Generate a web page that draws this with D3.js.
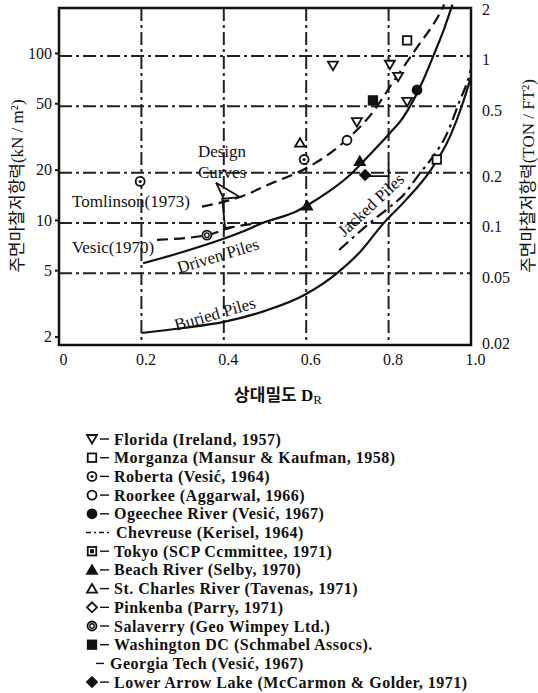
<!DOCTYPE html>
<meta charset="utf-8">
<script src="https://d3js.org/d3.v7.min.js"></script>
<style>
  body { margin: 0; background: #fff; }
  svg text { font-family: "Liberation Serif", "Noto Sans CJK KR", serif; fill: #111; }
</style>
<div id="chart"></div>
<script>
// axis ticks
var xTicks = [0, 0.2, 0.4, 0.6, 0.8, 1.0];
var kNTicks = [2, 5, 10, 20, 50, 100];
var tonTicks = [0.02, 0.05, 0.1, 0.2, 0.5, 1, 2];
var tonGrid = [1, 0.5, 0.2, 0.1, 0.05];
var dGrid = [0.2, 0.4, 0.6, 0.8];
var tonToKN = 95.76;

// design curves, [D_R, kN/m2]
var tomlinson = [[0.347, 12.0], [0.439, 13.7], [0.519, 16.7], [0.592, 19.9], [0.689, 28.9], [0.762, 44.3], [0.811, 67], [0.869, 108], [0.925, 174], [0.935, 195]];
var vesicLead = [[0.238, 7.6], [0.359, 8.1], [0.415, 8.96], [0.493, 9.6]];
var driven = [[0.204, 5.5], [0.294, 6.35], [0.44, 8.4], [0.495, 9.6], [0.578, 11.3], [0.602, 12.2], [0.65, 14.5], [0.7, 18], [0.75, 24], [0.8, 32.5], [0.835, 41], [0.86, 52], [0.883, 68], [0.91, 98], [0.935, 140], [0.955, 195]];
var jacked = [[0.68, 6.6], [0.755, 9.6], [0.8, 11.8], [0.835, 14], [0.876, 19], [0.908, 24], [0.942, 33], [0.973, 52], [0.99, 66], [1.0, 80]];
var buried = [[0.2, 2.1], [0.3, 2.25], [0.4, 2.45], [0.5, 2.85], [0.6, 3.6], [0.675, 4.8], [0.73, 6.4], [0.787, 9.5], [0.84, 13], [0.9, 19.5], [0.95, 32], [0.98, 50], [1.0, 72]];
var designPointerA = [[0.381, 16.7], [0.439, 13.7], [0.400, 13.4], [0.381, 16.7]];
var designPointerB = [[0.396, 13.6], [0.403, 8.95], [0.425, 9.1]];

// field data, [D_R, kN/m2]
var floridaPts = [[0.665, 84], [0.723, 38.5], [0.803, 85], [0.823, 72], [0.845, 51]];
var morganzaPts = [[0.845, 119], [0.917, 23]];
var robertaPts = [[0.197, 17], [0.595, 23]];
var roorkeePts = [[0.699, 30]];
var ogeecheePts = [[0.869, 60]];
var beachPts = [[0.602, 12.2], [0.73, 22.5]];
var stCharlesPts = [[0.585, 29]];
var salaverryPts = [[0.359, 8.1]];
var washingtonPts = [[0.762, 52]];
var lowerArrowPts = [[0.743, 18.6]];
var georgiaTech = [[[0.745, 18.3], [0.8, 18.3], [0.8, 21.5]]];

// legend
var legendNames = ["Florida (Ireland, 1957)", "Morganza (Mansur & Kaufman, 1958)", "Roberta (Vesić, 1964)",
  "Roorkee (Aggarwal, 1966)", "Ogeechee River (Vesić, 1967)", "Chevreuse (Kerisel, 1964)",
  "Tokyo (SCP Ccmmittee, 1971)", "Beach River (Selby, 1970)", "St. Charles River (Tavenas, 1971)",
  "Pinkenba (Parry, 1971)", "Salaverry (Geo Wimpey Ltd.)", "Washington DC (Schmabel Assocs).",
  "Georgia Tech (Vesić, 1967)", "Lower Arrow Lake (McCarmon & Golder, 1971)"];
var legendKinds = ["triDown", "square", "circleDot", "circle", "circleFilled", "dashDot", "squareDot",
  "triFilled", "tri", "diamond", "circleDouble", "squareFilled", "line", "diamondFilled"];

var ink = "#111";

var svg = d3.select("#chart").append("svg")
    .attr("width", 538)
    .attr("height", 693);

var x = d3.scaleLinear().domain([0, 1]).range([59, 471]);
var y = d3.scaleLog().domain([1.78, 186]).range([345, 8]);
var yTon = d3.scaleLog().domain([1.78 / tonToKN, 186 / tonToKN]).range([345, 8]);

// grid lines
var grid = svg.append("g")
    .attr("stroke", "#222")
    .attr("stroke-width", 2)
    .attr("stroke-dasharray", "13,4,3,4");
grid.selectAll(".h").data(tonGrid).join("line")
    .attr("x1", x(0)).attr("x2", x(1))
    .attr("y1", d => yTon(d)).attr("y2", d => yTon(d));
grid.selectAll(".v").data(dGrid).join("line")
    .attr("x1", d => x(d)).attr("x2", d => x(d))
    .attr("y1", y.range()[1]).attr("y2", y.range()[0]);

// frame
svg.append("rect")
    .attr("x", x(0)).attr("y", y.range()[1])
    .attr("width", x(1) - x(0)).attr("height", y.range()[0] - y.range()[1])
    .attr("fill", "none").attr("stroke", ink).attr("stroke-width", 2.5);

// axes
var leftAxis = svg.append("g")
    .attr("transform", "translate(" + x(0) + ",0)")
    .call(d3.axisLeft(y).tickValues(kNTicks).tickFormat(d3.format("d")).tickSize(4).tickPadding(3));
leftAxis.select(".domain").remove();

var rightAxis = svg.append("g")
    .attr("transform", "translate(" + x(1) + ",0)")
    .call(d3.axisRight(yTon).tickValues(tonTicks).tickFormat(d3.format("~g")).tickSize(0).tickPadding(11));
rightAxis.select(".domain").remove();
rightAxis.selectAll("text").attr("dy", "0.55em");

var bottomAxis = svg.append("g")
    .attr("transform", "translate(0," + y.range()[0] + ")")
    .call(d3.axisBottom(x).tickValues(xTicks).tickFormat(d => d === 0 ? "0" : d.toFixed(1)).tickSize(0).tickPadding(9));
bottomAxis.select(".domain").remove();
bottomAxis.selectAll("text").attr("dx", 4);

[leftAxis, rightAxis, bottomAxis].forEach(function(g) {
  g.attr("font-size", 16).attr("font-family", null);
  g.selectAll("line").attr("stroke", ink).attr("stroke-width", 2);
});

// axis titles
svg.append("text")
    .attr("transform", "translate(17,186) rotate(-90)")
    .attr("text-anchor", "middle").attr("dominant-baseline", "central")
    .attr("font-size", 17)
    .text("주면마찰저항력(kN / m²)");
svg.append("text")
    .attr("transform", "translate(528,176) rotate(-90)")
    .attr("text-anchor", "middle").attr("dominant-baseline", "central")
    .attr("font-size", 17)
    .text("주면마찰저항력(TON / FT²)");
var xt = svg.append("text")
    .attr("x", 278).attr("y", 401)
    .attr("text-anchor", "middle")
    .attr("font-size", 17);
xt.append("tspan").attr("font-weight", "bold").text("상대밀도 D");
xt.append("tspan").attr("font-size", 13).attr("dy", 3).text("R");

// curves
var clip = svg.append("clipPath").attr("id", "plotclip")
  .append("rect").attr("x", x(0)).attr("y", 0).attr("width", x(1) - x(0)).attr("height", y.range()[0]);
var line = d3.line().x(d => x(d[0])).y(d => y(d[1])).curve(d3.curveMonotoneX);
var straight = d3.line().x(d => x(d[0])).y(d => y(d[1]));
var curves = svg.append("g").attr("clip-path", "url(#plotclip)")
    .attr("fill", "none").attr("stroke", ink).attr("stroke-width", 2.2);

curves.append("path").datum(tomlinson).attr("d", line).attr("stroke-dasharray", "11,6");
curves.append("path").datum(vesicLead).attr("d", line).attr("stroke-dasharray", "11,6");
curves.append("path").datum(driven).attr("d", line);
curves.append("path").datum(jacked).attr("d", line).attr("stroke-dasharray", "12,5,3,5");
curves.append("path").datum(buried).attr("d", line);
curves.append("path").datum(designPointerA).attr("d", straight).attr("stroke-width", 1.8);
curves.append("path").datum(designPointerB).attr("d", straight).attr("stroke-width", 1.8);
georgiaTech.forEach(function(seg) {
  curves.append("path").datum(seg).attr("d", straight).attr("stroke-width", 1.8);
});

// curve labels
function label(txt, cx, cy, angle, size) {
  svg.append("text")
      .attr("transform", "translate(" + cx + "," + cy + ") rotate(" + angle + ")")
      .attr("text-anchor", "middle").attr("dominant-baseline", "central")
      .attr("font-size", size || 17)
      .text(txt);
}
label("Tomlinson(1973)", 131, 201, 0);
label("Vesic(1970)", 113, 247, 0);
label("Design", 222, 151, 0);
label("Curves", 222, 172, 0);
label("Driven Piles", 218, 256, -17);
label("Buried Piles", 215, 314, -16);
label("Jacked Piles", 371, 205, -43);

// symbols
function drawSymbol(g, kind, cx, cy, r) {
  var sw = 1.8;
  if (kind == "triDown" || kind == "tri" || kind == "triFilled") {
    var s = kind == "triDown" ? 1 : -1;
    g.append("path")
        .attr("d", "M" + (cx - r) + "," + (cy - s * r * 0.8) + "L" + (cx + r) + "," + (cy - s * r * 0.8) + "L" + cx + "," + (cy + s * r * 0.9) + "Z")
        .attr("fill", kind == "triFilled" ? ink : "#fff").attr("stroke", ink).attr("stroke-width", sw);
  } else if (kind == "square" || kind == "squareFilled" || kind == "squareDot") {
    g.append("rect").attr("x", cx - r * 0.85).attr("y", cy - r * 0.85).attr("width", r * 1.7).attr("height", r * 1.7)
        .attr("fill", kind == "squareFilled" ? ink : "#fff").attr("stroke", ink).attr("stroke-width", sw);
    if (kind == "squareDot")
      g.append("rect").attr("x", cx - r * 0.4).attr("y", cy - r * 0.4).attr("width", r * 0.8).attr("height", r * 0.8).attr("fill", ink);
  } else if (kind == "circle" || kind == "circleFilled" || kind == "circleDot" || kind == "circleDouble") {
    g.append("circle").attr("cx", cx).attr("cy", cy).attr("r", r * 0.9)
        .attr("fill", kind == "circleFilled" ? ink : "#fff").attr("stroke", ink).attr("stroke-width", sw);
    if (kind == "circleDot")
      g.append("circle").attr("cx", cx).attr("cy", cy).attr("r", r * 0.3).attr("fill", ink);
    if (kind == "circleDouble")
      g.append("circle").attr("cx", cx).attr("cy", cy).attr("r", r * 0.45).attr("fill", "none").attr("stroke", ink).attr("stroke-width", 1.4);
  } else if (kind == "diamond" || kind == "diamondFilled") {
    g.append("path")
        .attr("d", "M" + cx + "," + (cy - r) + "L" + (cx + r) + "," + cy + "L" + cx + "," + (cy + r) + "L" + (cx - r) + "," + cy + "Z")
        .attr("fill", kind == "diamondFilled" ? ink : "#fff").attr("stroke", ink).attr("stroke-width", sw);
  }
}

// field data markers
var siteSeries = [
  {kind: "triDown", pts: floridaPts},
  {kind: "square", pts: morganzaPts},
  {kind: "circleDot", pts: robertaPts},
  {kind: "circle", pts: roorkeePts},
  {kind: "circleFilled", pts: ogeecheePts},
  {kind: "triFilled", pts: beachPts},
  {kind: "tri", pts: stCharlesPts},
  {kind: "circleDouble", pts: salaverryPts},
  {kind: "squareFilled", pts: washingtonPts},
  {kind: "diamondFilled", pts: lowerArrowPts}
];
var marks = svg.append("g");
siteSeries.forEach(function(s) {
  s.pts.forEach(function(p) {
    drawSymbol(marks, s.kind, x(p[0]), y(p[1]), 5);
  });
});

// legend
var legendX = 92, legendY0 = 439, legendStep = 18.7;
var legend = svg.append("g");
legendNames.forEach(function(name, i) {
  var cy = legendY0 + i * legendStep;
  var kind = legendKinds[i];
  var tx = legendX + 22;
  if (kind == "dashDot") {
    legend.append("line").attr("x1", legendX - 6).attr("x2", legendX + 17).attr("y1", cy).attr("y2", cy)
        .attr("stroke", ink).attr("stroke-width", 1.4).attr("stroke-dasharray", "5,3,2,3");
    tx = legendX + 24;
  } else if (kind == "line") {
    legend.append("line").attr("x1", legendX + 4).attr("x2", legendX + 12).attr("y1", cy).attr("y2", cy)
        .attr("stroke", ink).attr("stroke-width", 1.4);
    tx = legendX + 18;
  } else {
    drawSymbol(legend, kind, legendX, cy, 5);
    legend.append("line").attr("x1", legendX + 8).attr("x2", legendX + 17).attr("y1", cy).attr("y2", cy)
        .attr("stroke", ink).attr("stroke-width", 1.4);
  }
  legend.append("text")
      .attr("x", tx).attr("y", cy)
      .attr("dominant-baseline", "central")
      .attr("font-size", 16)
      .attr("font-weight", "bold")
      .attr("letter-spacing", 0.5)
      .text(name);
});
</script>
